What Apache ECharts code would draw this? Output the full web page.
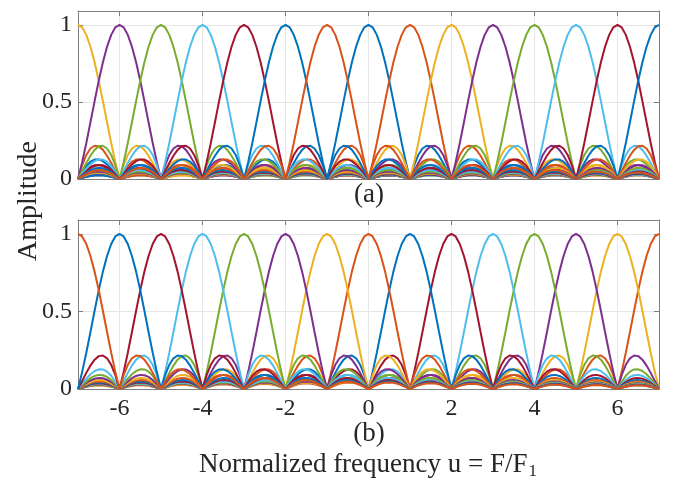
<!DOCTYPE html>
<html>
<head>
<meta charset="utf-8">
<script src="https://cdn.jsdelivr.net/npm/echarts@6/dist/echarts.min.js"></script>
<style>html,body{margin:0;padding:0;background:#fff;}#c{width:677px;height:480px;}</style>
</head>
<body>
<div id="c"></div>
<script>
// MATLAB default colour order
const palette = ['#0072BD', '#D95319', '#EDB120', '#7E2F8E', '#77AC30', '#4DBEEE', '#A2142F'];

// Amplitude of one channel response vs distance from its centre (step 0.1 in u), read as |sinc|
const profileStep = 0.1;
const sincProfile = [
  1.000, 0.984, 0.935, 0.858, 0.757, 0.637, 0.505, 0.368, 0.234, 0.109,
  0.000, 0.089, 0.156, 0.198, 0.216, 0.212, 0.189, 0.151, 0.104, 0.052,
  0.000, 0.047, 0.085, 0.112, 0.126, 0.127, 0.116, 0.095, 0.067, 0.034,
  0.000, 0.032, 0.058, 0.078, 0.089, 0.091, 0.084, 0.070, 0.049, 0.025,
  0.000, 0.024, 0.045, 0.060, 0.069, 0.071, 0.066, 0.055, 0.039, 0.020,
  0.000, 0.019, 0.036, 0.049, 0.056, 0.058, 0.054, 0.045, 0.032, 0.017,
  0.000, 0.016, 0.030, 0.041, 0.047, 0.049, 0.046, 0.038, 0.028, 0.014,
  0.000, 0.014, 0.026, 0.035, 0.041, 0.042, 0.040, 0.033, 0.024, 0.012,
  0.000, 0.012, 0.023, 0.031, 0.036, 0.037, 0.035, 0.030, 0.021, 0.011,
  0.000, 0.011, 0.020, 0.028, 0.032, 0.034, 0.032, 0.027, 0.019, 0.010,
  0.000, 0.010, 0.018, 0.025, 0.029, 0.030, 0.029, 0.024, 0.017, 0.009,
  0.000, 0.009, 0.017, 0.023, 0.027, 0.028, 0.026, 0.022, 0.016, 0.008,
  0.000, 0.008, 0.015, 0.021, 0.024, 0.025, 0.024, 0.020, 0.015, 0.008,
  0.000, 0.008, 0.014, 0.019, 0.023, 0.024, 0.022, 0.019, 0.014, 0.007,
  0.000
];

// Panel (a): channel centres (in drawing order) and colour index of each
const centersA  = [0, 1, 2, 3, 4, 5, 6, 7, 8, 9, 10, 11, 12, 13, 14,
                   -14, -13, -12, -11, -10, -9, -8, -7, -6, -5, -4, -3, -2, -1];
const colorIdxA = [0, 1, 2, 3, 4, 5, 6, 0, 1, 2, 3, 4, 5, 6, 0,
                   2, 3, 4, 5, 6, 0, 1, 2, 3, 4, 5, 6, 0, 1];

// Panel (b): channel centres (in drawing order) and colour index of each
const centersB  = [7, 6, 5, 4, 3, 2, 1, 0, -1, -2, -3, -4, -5, -6, -7];
const colorIdxB = [1, 2, 3, 4, 5, 6, 0, 1, 2, 3, 4, 5, 6, 0, 1];

const xTicks = [-6, -4, -2, 0, 2, 4, 6];
const yTicks = [0, 0.5, 1];
const xRange = [-7, 7];
const yMax = 1.09;

const FONT = '"Liberation Serif", "Times New Roman", serif';
const TXT = '#262626';
const BOX = '#7f7f7f';

function curve(c) {
  const pts = [];
  const n = sincProfile.length - 1;
  for (let i = -n; i <= n; i++) {
    const x = Math.round((c + i * profileStep) * 10) / 10;
    if (x < xRange[0] || x > xRange[1]) continue;
    pts.push([x, sincProfile[Math.abs(i)]]);
  }
  return pts;
}

function xAx(gi, pos, labels) {
  return {
    type: 'value', gridIndex: gi, position: pos, min: xRange[0], max: xRange[1],
    axisLine: { show: true, onZero: false, lineStyle: { color: BOX, width: 1 } },
    axisTick: { show: true, inside: true, length: 5, customValues: xTicks, lineStyle: { color: BOX } },
    axisLabel: { show: labels, customValues: xTicks, color: TXT, fontFamily: FONT, fontSize: 24, margin: 8 },
    splitLine: { show: pos === 'bottom', lineStyle: { color: '#e6e6e6', width: 1 } }
  };
}
function yAx(gi, pos, labels) {
  return {
    type: 'value', gridIndex: gi, position: pos, min: 0, max: yMax,
    axisLine: { show: true, onZero: false, lineStyle: { color: BOX, width: 1 } },
    axisTick: { show: true, inside: true, length: 5, customValues: yTicks, lineStyle: { color: BOX } },
    axisLabel: { show: labels, customValues: yTicks, color: TXT, fontFamily: FONT, fontSize: 24, margin: 6 },
    splitLine: { show: pos === 'left', lineStyle: { color: '#e6e6e6', width: 1 } }
  };
}

const series = [];
centersA.forEach((c, i) => series.push({
  type: 'line', xAxisIndex: 0, yAxisIndex: 0, data: curve(c), showSymbol: false, symbol: 'none',
  lineStyle: { width: 2, color: palette[colorIdxA[i]] }, itemStyle: { color: palette[colorIdxA[i]] },
  clip: true, silent: true
}));
centersB.forEach((c, i) => series.push({
  type: 'line', xAxisIndex: 2, yAxisIndex: 2, data: curve(c), showSymbol: false, symbol: 'none',
  lineStyle: { width: 2, color: palette[colorIdxB[i]] }, itemStyle: { color: palette[colorIdxB[i]] },
  clip: true, silent: true
}));

const chart = echarts.init(document.getElementById('c'), null, { renderer: 'canvas' });
chart.setOption({
  animation: false,
  backgroundColor: '#ffffff',
  grid: [
    { left: 78, right: 18, top: 11, height: 168 },
    { left: 78, right: 18, top: 220, height: 169 }
  ],
  xAxis: [xAx(0, 'bottom', false), xAx(0, 'top', false), xAx(1, 'bottom', true), xAx(1, 'top', false)],
  yAxis: [yAx(0, 'left', true), yAx(0, 'right', false), yAx(1, 'left', true), yAx(1, 'right', false)],
  series: series,
  graphic: [
    { type: 'text', x: 369, y: 195, style: { text: '(a)', font: '27px ' + FONT, fill: TXT, textAlign: 'center', textVerticalAlign: 'middle' } },
    { type: 'text', x: 369, y: 434, style: { text: '(b)', font: '27px ' + FONT, fill: TXT, textAlign: 'center', textVerticalAlign: 'middle' } },
    { type: 'text', x: 368, y: 465, style: {
        text: '{n|Normalized frequency u = F/F}{s|1}', textAlign: 'center', textVerticalAlign: 'middle',
        rich: {
          n: { fontFamily: FONT, fontSize: 27, fill: TXT, color: TXT },
          s: { fontFamily: FONT, fontSize: 17, fill: TXT, color: TXT, padding: [13, 0, 0, 1] }
        } } },
    { type: 'text', x: 29, y: 201, rotation: Math.PI / 2, style: { text: 'Amplitude', font: '28px ' + FONT, fill: TXT, textAlign: 'center', textVerticalAlign: 'middle' } }
  ]
});
</script>
</body>
</html>
